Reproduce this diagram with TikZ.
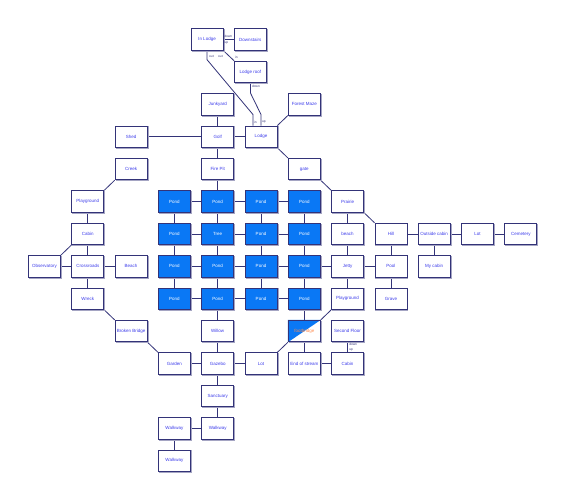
\documentclass[tikz,border=0pt]{standalone}
\usepackage{fontspec}
\setmainfont{Liberation Sans}
\usetikzlibrary{calc,shadows}
\definecolor{navy}{RGB}{51,51,120}
\definecolor{shade}{RGB}{165,165,195}
\definecolor{txtblue}{RGB}{60,60,235}
\definecolor{pondblue}{RGB}{10,120,245}
\definecolor{fbtext}{RGB}{255,140,80}
\pgfdeclarelayer{bg}
\pgfsetlayers{bg,main}
\begin{document}
\begin{tikzpicture}[x=43.3pt,y=-32.4pt,
  room/.style={draw=navy, line width=0.8pt, fill=white, minimum width=32pt, minimum height=21.5pt,
    inner sep=0pt, font=\fontsize{4.5}{5}\selectfont, text=txtblue,
    drop shadow={shadow xshift=0.9pt, shadow yshift=-0.9pt, draw=shade, fill=none, opacity=1, line width=0.8pt}},
  pond/.style={room, fill=pondblue, text=white},
  link/.style={draw=navy, line width=0.8pt},
  lbl/.style={font=\fontsize{3.2}{3.5}\selectfont, text=navy, inner sep=0pt, anchor=west}]
\useasboundingbox (-44.5pt,39.5pt) rectangle (519.5pt,-460.5pt);
% top
\node[room] (inl) at (3.753,0) {In Lodge};
\node[room] (down) at (4.753,0) {Downstairs};
\node[room] (roof) at (4.757,1) {Lodge roof};
\node[room] (junk) at (4,2) {Junkyard};
\node[room] (maze) at (6,2) {Forest Maze};
\node[room] (shed) at (2,3) {Shed};
\node[room] (golf) at (4,3) {Golf};
\node[room] (lodge) at (5,3) {Lodge};
\node[room] (fire) at (4,4) {Fire Pit};
\node[room] (gate) at (6,4) {gate};
% left
\node[room] (creek) at (2,4) {Creek};
\node[room] (pgl) at (1,5) {Playground};
\node[room] (cabl) at (1,6) {Cabin};
\node[room] (obs) at (0,7) {Observatory};
\node[room] (cross) at (1,7) {Crossroads};
\node[room] (beachL) at (2,7) {Beach};
\node[room] (wreck) at (1,8) {Wreck};
\node[room] (bb) at (2,9) {Broken Bridge};
% ponds
\foreach \r in {5,...,8}{
  \foreach \c in {3,...,6}{
    \node[pond] (p\r\c) at (\c,\r) {\ifnum\r\c=64 Tree\else Pond\fi};
  }
}
% bottom
\node[room] (willow) at (4,9) {Willow};
\node[room] (fb) at (6,9) {};
\fill[pondblue] (fb.north west) -- (fb.north east) -- (fb.south west) -- cycle;
\draw[navy, line width=0.8pt] ([shift={(0.4pt,-0.4pt)}]fb.north west) rectangle ([shift={(-0.4pt,0.4pt)}]fb.south east);
\node[font=\fontsize{4.5}{5}\selectfont, text=fbtext, inner sep=0pt] at (fb) {footbridge};
\node[room] (sf) at (7,9) {Second Floor};
\node[room] (garden) at (3,10) {Garden};
\node[room] (gazebo) at (4,10) {Gazebo};
\node[room] (lotL) at (5,10) {Lot};
\node[room] (eos) at (6,10) {End of stream};
\node[room] (cabr) at (7,10) {Cabin};
\node[room] (sanct) at (4,11) {Sanctuary};
\node[room] (wk1) at (4,12) {Walkway};
\node[room] (wk2) at (3,12) {Walkway};
\node[room] (wk3) at (3,13) {Walkway};
% right
\node[room] (prairie) at (7,5) {Prairie};
\node[room] (beachR) at (7,6) {beach};
\node[room] (jetty) at (7,7) {Jetty};
\node[room] (pgr) at (7,8) {Playground};
\node[room] (hill) at (8,6) {Hill};
\node[room] (pool) at (8,7) {Pool};
\node[room] (grave) at (8,8) {Grave};
\node[room] (oc) at (9,6) {Outside cabin};
\node[room] (mycab) at (9,7) {My cabin};
\node[room] (lotR) at (10,6) {Lot};
\node[room] (cem) at (11,6) {Cemetery};
% labels
\node[lbl] at ($(inl.east)+(1pt,3.2pt)$) {down};
\node[lbl] at ($(inl.east)+(1pt,-3.2pt)$) {up};
\node[lbl] at ($(inl.south)+(2pt,-6pt)$) {out};
\node[lbl] at ($(inl.south)+(11pt,-6pt)$) {out};
\node[lbl] at ($(roof.north west)+(1pt,3.5pt)$) {in};
\node[lbl] at ($(roof.south)+(1.5pt,-3.5pt)$) {down};
\node[lbl] at ($(lodge.north)+(-7pt,3.2pt)$) {in};
\node[lbl] at ($(lodge.north)+(1pt,3.2pt)$) {up};
\node[lbl] at ($(sf.south)+(1.5pt,-2.2pt)$) {down};
\node[lbl] at ($(sf.south)+(1.5pt,-7.4pt)$) {up};
\begin{pgfonlayer}{bg}
\fill[white] (-44.5pt,39.5pt) rectangle (519.5pt,-460.5pt);
\draw[link] (inl) -- (down);
\draw[link] (inl.south east) -- (roof.north west);
\draw[link] (inl.south) -- ++(0,-9pt) -- ($(lodge.north)+(-8pt,11pt)$) -- ($(lodge.north)+(-8pt,0)$);
\draw[link] (roof.south) -- ++(0,-10pt) -- ($(lodge.north)+(0,11pt)$) -- (lodge.north);
\draw[link] (junk) -- (golf);
\draw[link] (shed) -- (golf);
\draw[link] (golf) -- (lodge);
\draw[link] (golf) -- (fire);
\draw[link] (lodge.north east) -- (maze.south west);
\draw[link] (lodge.south east) -- (gate.north west);
\draw[link] (fire) -- (p54);
\draw[link] (gate.south east) -- (prairie.north west);
\draw[link] (creek.south west) -- (pgl.north east);
\draw[link] (pgl) -- (cabl);
\draw[link] (cabl) -- (cross);
\draw[link] (cabl.south west) -- (obs.north east);
\draw[link] (obs) -- (cross);
\draw[link] (cross) -- (beachL);
\draw[link] (cross) -- (wreck);
\draw[link] (wreck.south east) -- (bb.north west);
\draw[link] (bb.south east) -- (garden.north west);
\draw[link] (garden) -- (gazebo);
\draw[link] (willow) -- (gazebo);
\draw[link] (gazebo) -- (lotL);
\draw[link] (gazebo) -- (sanct);
\draw[link] (sanct) -- (wk1);
\draw[link] (wk1) -- (wk2);
\draw[link] (wk2) -- (wk3);
\foreach \r in {5,...,8}{
  \draw[link] (p\r3) -- (p\r4);
  \draw[link] (p\r4) -- (p\r5);
  \draw[link] (p\r5) -- (p\r6);
}
\foreach \c in {3,...,6}{
  \draw[link] (p5\c) -- (p6\c);
  \draw[link] (p6\c) -- (p7\c);
  \draw[link] (p7\c) -- (p8\c);
}
\draw[link] (p84) -- (willow);
\draw[link] (p86) -- (fb);
\draw[link] (p76) -- (jetty);
\draw[link] (prairie) -- (beachR);
\draw[link] (beachR) -- (jetty);
\draw[link] (jetty) -- (pgr);
\draw[link] (prairie.south east) -- (hill.north west);
\draw[link] (jetty) -- (pool);
\draw[link] (hill) -- (pool);
\draw[link] (pool) -- (grave);
\draw[link] (hill) -- (oc);
\draw[link] (oc) -- (lotR);
\draw[link] (lotR) -- (cem);
\draw[link] (oc) -- (mycab);
\draw[link] (pgr.south west) -- (fb.north east);
\draw[link] (fb.south west) -- (lotL.north east);
\draw[link] (fb) -- (eos);
\draw[link] (eos) -- (cabr);
\draw[link] (sf) -- (cabr);
\end{pgfonlayer}
\end{tikzpicture}
\end{document}
